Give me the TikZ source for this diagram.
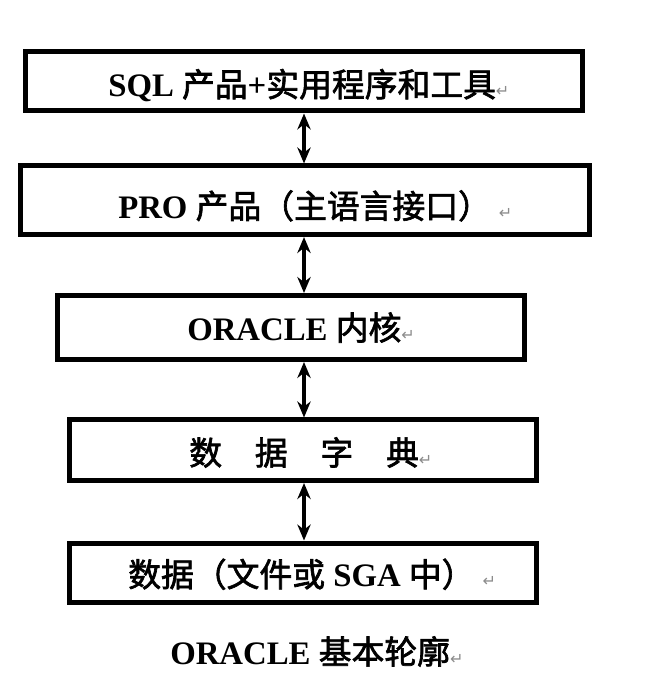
\documentclass[tikz,border=0pt]{standalone}
\usepackage{fontspec}
\setmainfont{Liberation Serif}
\newfontfamily\cjkface[FakeBold=2]{Noto Sans CJK SC}
\newcommand{\cjk}{\cjkface\mdseries}
\newfontfamily\symf{DejaVu Sans}
\usetikzlibrary{arrows.meta}
\newcommand{\rmk}{{\symf\mdseries\fontsize{12pt}{12pt}\selectfont\color{black!45}↵}}
\begin{document}
\begin{tikzpicture}[x=0.75pt,y=-0.75pt,
  boxstyle/.style={draw, line width=3.75pt, rectangle, inner sep=0pt},
  txt/.style={font=\fontsize{24.6pt}{28pt}\selectfont\bfseries, inner sep=0pt, anchor=base west},
  link/.style={line width=2.6pt, {Stealth[length=12pt,width=10pt]}-{Stealth[length=12pt,width=10pt]}}]
\useasboundingbox[fill=white] (0,0) rectangle (664,688);
\coordinate (ax) at (304,0);
\node[boxstyle, minimum width=418.1pt, minimum height=44.25pt] (b1) at (303.75,81.5) {};
\node[boxstyle, minimum width=427.1pt, minimum height=51.4pt] (b2) at (305.25,200.25) {};
\node[boxstyle, minimum width=350.25pt, minimum height=48pt] (b3) at (291,327.5) {};
\node[boxstyle, minimum width=350.25pt, minimum height=45.4pt] (b4) at (302.5,450.25) {};
\node[boxstyle, minimum width=350.25pt, minimum height=44.6pt] (b5) at (302.5,572.75) {};
\node[txt] (t1) at (108,96.7) {SQL {\cjk 产品}+{\cjk 实用程序和工具}\rmk};
\node[txt] (t2) at (118,218.3) {PRO {\cjk 产品（主语言接口）}\hspace{6pt}\rmk};
\node[txt] (t3) at (187,340) {ORACLE {\cjk 内核}\rmk};
\node[txt] (t4) at (189,465) {{\cjk 数\quad 据\quad 字\quad 典}\rmk};
\node[txt] (t5) at (128,586.7) {{\cjk 数据（文件或} SGA {\cjk 中）}\hspace{6pt}\rmk};
\node[txt] (cap) at (170,664) {ORACLE {\cjk 基本轮廓}\rmk};
\draw[link] (b1.south -| ax) -- (b2.north -| ax);
\draw[link] (b2.south -| ax) -- (b3.north -| ax);
\draw[link] (b3.south -| ax) -- (b4.north -| ax);
\draw[link] (b4.south -| ax) -- (b5.north -| ax);
\end{tikzpicture}
\end{document}
